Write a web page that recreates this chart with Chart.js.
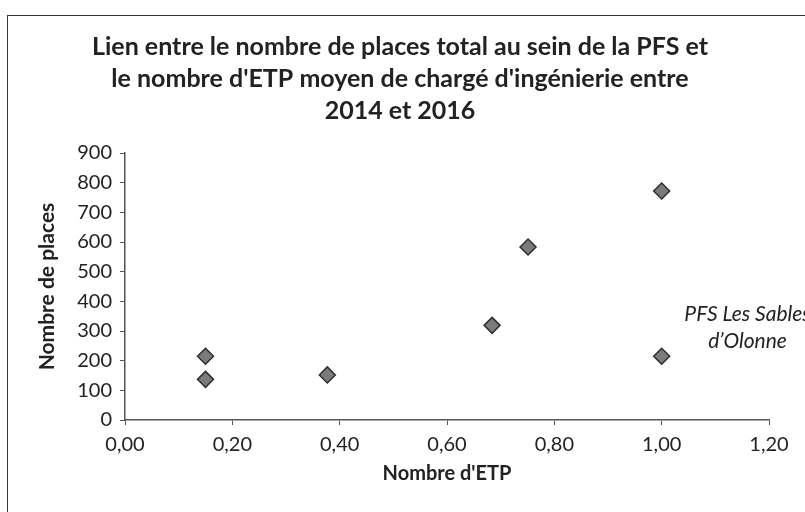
<!DOCTYPE html>
<html>
<head>
<meta charset="utf-8">
<script src="https://cdn.jsdelivr.net/npm/chart.js@4"></script>
<style>
    body { margin: 0; background: #fff; }
    #wrap { position: relative; width: 805px; height: 512px; overflow: hidden; }
    #frame { position: absolute; left: 7px; top: 15px; width: 900px; height: 600px; border: 1px solid #333; }
    canvas { position: absolute; left: 0; top: 0; }
</style>
</head>
<body>
<div id="wrap">
    <div id="frame"></div>
    <canvas id="scatterChart" width="805" height="512"></canvas>
</div>
<script>
const titleLines = ['Lien entre le nombre de places total au sein de la PFS et', "le nombre d'ETP moyen de chargé d'ingénierie entre", '2014 et 2016'];
const etpValues = [0.15, 0.15, 0.377, 0.684, 0.751, 1.0, 1.0];
const placesValues = [215, 137, 152, 319, 583, 772, 215];
const noteLines = ['PFS Les Sables', 'd\u2019Olonne'];
const xTitle = "Nombre d'ETP";
const yTitle = 'Nombre de places';

const FONT = 'Lato, "Open Sans", sans-serif';
const TEXT = '#222';

// italic note next to the Les Sables point
const notePlugin = {
    id: 'note',
    afterDatasetsDraw(chart) {
        const { ctx, scales } = chart;
        const x = scales.x.getPixelForValue(1.16);
        const y = scales.y.getPixelForValue(355);
        ctx.save();
        ctx.font = 'italic 21px ' + FONT;
        ctx.fillStyle = TEXT;
        ctx.textAlign = 'center';
        ctx.textBaseline = 'middle';
        noteLines.forEach((line, i) => ctx.fillText(line, x, y + i * 27));
        ctx.restore();
    }
};

const ctx = document.getElementById('scatterChart').getContext('2d');
new Chart(ctx, {
    type: 'scatter',
    data: {
        datasets: [{
            label: 'PFS',
            data: etpValues.map((v, i) => ({ x: v, y: placesValues[i] })),
            pointStyle: 'rectRot',
            pointRadius: 8,
            pointHoverRadius: 8,
            backgroundColor: '#7b7b7b',
            borderColor: '#2e2e2e',
            borderWidth: 1.5
        }]
    },
    options: {
        responsive: false,
        animation: false,
        layout: { padding: { left: 31, right: 36, top: 0, bottom: 22 } },
        plugins: {
            legend: { display: false },
            tooltip: { enabled: false },
            title: {
                display: true,
                text: titleLines,
                color: TEXT,
                font: { family: FONT, size: 25, weight: 'bold', lineHeight: 1.28 },
                padding: { top: 31, bottom: 26 }
            }
        },
        scales: {
            x: {
                type: 'linear',
                min: 0,
                max: 1.2,
                afterFit(scale) { scale.height = 70; },
                ticks: {
                    stepSize: 0.2,
                    color: TEXT,
                    font: { family: FONT, size: 20 },
                    padding: 8,
                    callback: v => v.toFixed(2).replace('.', ',')
                },
                grid: { drawOnChartArea: false, drawTicks: true, tickLength: 5, color: '#555' },
                border: { color: '#555', width: 1.5 },
                title: { display: true, text: xTitle, color: TEXT, font: { family: FONT, size: 20, weight: 'bold' }, padding: { top: 6 } }
            },
            y: {
                min: 0,
                max: 900,
                afterFit(scale) { scale.width = 94; },
                ticks: {
                    stepSize: 100,
                    color: TEXT,
                    font: { family: FONT, size: 20 },
                    padding: 8
                },
                grid: { drawOnChartArea: false, drawTicks: true, tickLength: 5, color: '#555' },
                border: { color: '#555', width: 1.5 },
                title: { display: true, text: yTitle, color: TEXT, font: { family: FONT, size: 21, weight: 'bold' }, padding: { bottom: 4 } }
            }
        }
    },
    plugins: [notePlugin]
});
</script>
</body>
</html>
